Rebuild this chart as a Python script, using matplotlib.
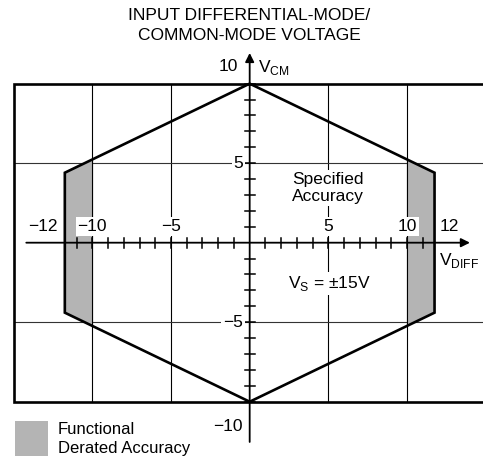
import matplotlib
matplotlib.use("Agg")
import matplotlib.pyplot as plt
from matplotlib.patches import Polygon, Rectangle

plt.rcParams['font.family'] = ['Liberation Sans', 'DejaVu Sans']
plt.rcParams['mathtext.fontset'] = 'custom'
plt.rcParams['mathtext.rm'] = 'Liberation Sans'

# specified-accuracy boundary (V_DIFF, V_CM)
hex_x = [0, 11.75, 11.75, 0, -11.75, -11.75]
hex_y = [10, 4.4, -4.4, -10, -4.4, 4.4]
# derated band starts at |V_DIFF| = 10
band_start = 10

grid_x = [-10, -5, 5, 10]
grid_y = [-5, 5]
x_ticks = [i for i in range(-11, 12) if i != 0]
y_ticks = [i for i in range(-10, 11) if i != 0]

x_labels = {-12: "\u221212", -10: "\u221210", -5: "\u22125", 5: "5", 10: "10", 12: "12"}
y_labels = {5: "5", -5: "\u22125"}

fig = plt.figure(figsize=(4.83, 4.62), dpi=100)
ax = fig.add_axes([0, 0, 1, 1])
ax.set_xlim(-15.87, 14.83)
ax.set_ylim(-13.79, 15.26)
ax.axis('off')

# outer box (right side falls outside the picture)
ax.plot([15.5, -15, -15, 15.5], [10, 10, -10, -10], color='k', lw=1.9, zorder=3,
        solid_joinstyle='miter')

# grid
for gx in grid_x:
    ax.plot([gx, gx], [-10, 10], color='k', lw=0.8, zorder=1)
for gy in grid_y:
    ax.plot([-15, 15.5], [gy, gy], color='#333333', lw=0.8, zorder=1)

# derated bands
def edge_y(x):
    # hexagon upper edge between apex and vertical side
    return hex_y[0] + (hex_y[1] - hex_y[0]) * abs(x) / hex_x[1]

for s in (1, -1):
    xs = [s * band_start, s * hex_x[1], s * hex_x[1], s * band_start]
    ys = [edge_y(band_start), hex_y[1], hex_y[2], -edge_y(band_start)]
    ax.add_patch(Polygon(list(zip(xs, ys)), closed=True, facecolor='#b4b4b4',
                         edgecolor='none', zorder=2))
    ax.plot([s * band_start] * 2, [edge_y(band_start), -edge_y(band_start)],
            color='k', lw=0.8, zorder=2.5)

ax.add_patch(Polygon(list(zip(hex_x, hex_y)), closed=True, fill=False,
                     edgecolor='k', lw=1.9, zorder=4, joinstyle='miter'))

# axes with arrows
ax.annotate('', xy=(14.0, 0), xytext=(-14.2, 0),
            arrowprops=dict(arrowstyle='-|>', color='k', lw=1.3, mutation_scale=13,
                            shrinkA=0, shrinkB=0), zorder=5)
ax.annotate('', xy=(0, 11.93), xytext=(0, -12.53),
            arrowprops=dict(arrowstyle='-|>', color='k', lw=1.3, mutation_scale=13,
                            shrinkA=0, shrinkB=0), zorder=5)
for t in x_ticks:
    ax.plot([t, t], [-0.32, 0.32], color='k', lw=1.1, zorder=5)
for t in y_ticks:
    ax.plot([-0.32, 0.32], [t, t], color='k', lw=1.1, zorder=5)

fs = 12.5
wb = dict(facecolor='white', edgecolor='none', pad=1.5)
x_label_pos = {-12: -13.15, -10: -10.0, -5: -5.0, 5: 5.0, 10: 10.0, 12: 12.7}
for v, lab in x_labels.items():
    ax.text(x_label_pos[v], 1.0, lab, ha='center', va='center', fontsize=fs,
            bbox=wb, zorder=6)
for v, lab in y_labels.items():
    ax.text(-0.4, v, lab, ha='right', va='center', fontsize=fs, bbox=wb, zorder=6)
ax.text(-0.74, 11.07, "10", ha='right', va='center', fontsize=fs, zorder=6)
ax.text(-0.43, -11.53, "\u221210", ha='right', va='center', fontsize=fs, zorder=6)
ax.text(0.53, 11.0, r"V$_{\mathrm{CM}}$", ha='left', va='center', fontsize=fs, zorder=6)
ax.text(12.04, -1.15, r"V$_{\mathrm{DIFF}}$", ha='left', va='center', fontsize=fs, zorder=6)
ax.text(5.0, 3.44, "Specified\nAccuracy", ha='center', va='center', fontsize=fs,
        linespacing=1.1, bbox=wb, zorder=6)
ax.text(5.04, -2.55, "V$_{\\mathrm{S}}$ = \u00b115V",
        ha='center', va='center', fontsize=fs, bbox=wb, zorder=6)

fig.text(249 / 483, 1 - 25.5 / 462, "INPUT DIFFERENTIAL-MODE/\nCOMMON-MODE VOLTAGE",
         ha='center', va='center', fontsize=fs, linespacing=1.45)

# legend
fig.patches.append(Rectangle((15 / 483, 1 - 456 / 462), 33 / 483, 35 / 462,
                             transform=fig.transFigure, facecolor='#b4b4b4',
                             edgecolor='none'))
fig.text(58 / 483, 1 - 439 / 462, "Functional\nDerated Accuracy", ha='left',
         va='center', fontsize=12, linespacing=1.35)

fig.savefig("out.png", dpi=100)
